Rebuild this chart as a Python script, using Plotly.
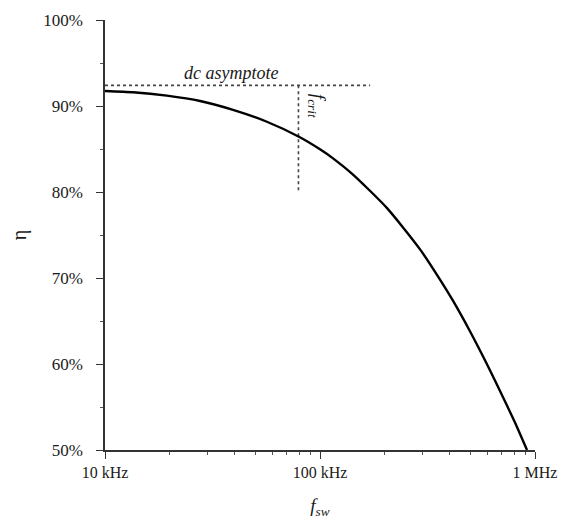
import plotly.graph_objects as go

# efficiency curve
freq_hz = [10e3, 13.5e3, 19.4e3, 27.7e3, 39.4e3, 56.6e3, 79.8e3, 100e3, 115e3, 142e3,
           205e3, 292e3, 361e3, 416e3, 499e3, 598e3, 710e3, 807e3, 918e3]
eta_pct = [91.75, 91.6, 91.2, 90.58, 89.55, 88.17, 86.43, 84.97, 83.91, 82.05,
           78.13, 73.33, 69.84, 67.33, 63.78, 59.97, 56.13, 53.2, 50.0]

# dc asymptote and critical frequency markers
asym_freq = [10e3, 171e3]
asym_eta = [92.4, 92.4]
crit_freq = [79.4e3, 79.4e3]
crit_eta = [92.4, 80.0]

x_tickvals = [1e4, 1e5, 1e6]
x_ticktext = ["10 kHz", "100 kHz", "1 MHz"]
x_minor = [m * 10 ** d for d in (4, 5) for m in range(2, 10)]
y_tickvals = [50, 60, 70, 80, 90, 100]
y_ticktext = ["50%", "60%", "70%", "80%", "90%", "100%"]

serif = "Liberation Serif, Times New Roman, serif"
ink = "#1a1a1a"

fig = go.Figure()
fig.add_trace(go.Scatter(x=asym_freq, y=asym_eta, mode="lines",
                         line=dict(color="#444", width=1.6, dash="dot")))
fig.add_trace(go.Scatter(x=crit_freq, y=crit_eta, mode="lines",
                         line=dict(color="#444", width=1.6, dash="dot")))
fig.add_trace(go.Scatter(x=freq_hz, y=eta_pct, mode="lines",
                         line=dict(color="black", width=2.4, shape="spline", smoothing=0.6)))

fig.add_annotation(x=4.586, y=92.4, xref="x", yref="y", text="<i>dc asymptote</i>",
                   showarrow=False, yanchor="bottom", yshift=0,
                   font=dict(family=serif, size=18, color=ink))
fig.add_annotation(x=4.9, y=92.4, xref="x", yref="y", text="<i>f</i><sub><i>crit</i></sub>",
                   showarrow=False, textangle=90, xanchor="left", yanchor="top", xshift=4, yshift=-6,
                   font=dict(family=serif, size=19, color=ink))

fig.update_xaxes(type="log", range=[4, 6], tickvals=x_tickvals, ticktext=x_ticktext,
                 showgrid=False, zeroline=False, showline=True, linecolor="#333", linewidth=1.6,
                 ticks="outside", ticklen=7, tickcolor="#333", tickwidth=1.4,
                 minor=dict(tickvals=x_minor, ticks="outside", ticklen=3, tickcolor="#555",
                            tickwidth=1, showgrid=False),
                 tickfont=dict(family=serif, size=16, color=ink),
                 title=dict(text="<i>f</i><sub><i>sw</i></sub>", standoff=19,
                            font=dict(family=serif, size=19, color=ink)))
fig.update_yaxes(range=[50, 100], tickvals=y_tickvals, ticktext=y_ticktext,
                 showgrid=False, zeroline=False, showline=True, linecolor="#333", linewidth=1.6,
                 ticks="outside", ticklen=7, tickcolor="#333", tickwidth=1.4, ticklabelstandoff=10,
                 minor=dict(ticks="outside", ticklen=3, tickcolor="#555", dtick=5, showgrid=False),
                 tickfont=dict(family=serif, size=17, color=ink),
                 title=dict(text="η", standoff=32, font=dict(family=serif, size=20, color=ink)))

# the page adds an 8px body margin, so the margins are shifted to land the axes where the reference has them
fig.update_layout(width=572, height=526, showlegend=False,
                  margin=dict(l=97, r=45, t=12, b=84, autoexpand=False),
                  plot_bgcolor="white", paper_bgcolor="white")

fig.write_html("out.html")
